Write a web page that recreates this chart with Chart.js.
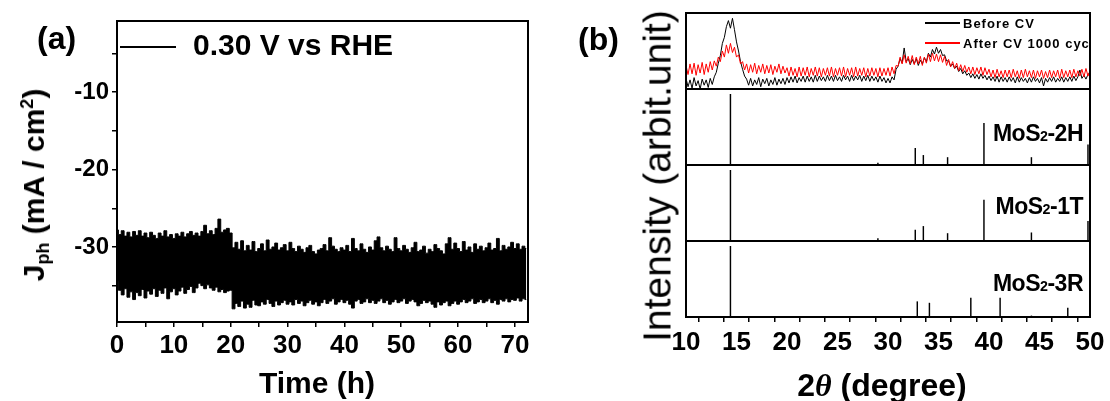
<!DOCTYPE html>
<html>
<head>
<meta charset="utf-8">
<script src="https://cdn.jsdelivr.net/npm/chart.js@4.4.0/dist/chart.umd.min.js"></script>
<style>
body{margin:0;background:#fff;width:1110px;height:401px;position:relative;overflow:hidden;font-family:"Liberation Sans",Arial,sans-serif;}
canvas{position:absolute;top:0}
#chartA{left:0}
#chartB{left:560px}
.t{position:absolute;white-space:nowrap;line-height:1;color:#000;font-weight:bold}
.t sub,.t sup{font-size:0.6em;line-height:0}
.t sub{vertical-align:-0.3em}
.t sup{vertical-align:0.6em}
.ln{position:absolute;height:2px}
</style>
</head>
<body>
<canvas id="chartA" width="545" height="401"></canvas>
<canvas id="chartB" width="550" height="401"></canvas>

<div class="t" style="left:37px;top:38px;font-size:32px;transform:translateY(-50%)">(a)</div>
<div class="ln" style="left:120px;top:46px;width:56px;background:#000"></div>
<div class="t" style="left:193px;top:45px;font-size:30px;transform:translateY(-50%)">0.30 V vs RHE</div>
<div class="t" style="left:317px;top:383px;font-size:30px;transform:translate(-50%,-50%)">Time (h)</div>
<div class="t" style="left:34px;top:185px;font-size:30px;transform:translate(-50%,-50%) rotate(-90deg)">J<sub>ph</sub> (mA / cm<sup>2</sup>)</div>

<div class="t" style="left:578px;top:39px;font-size:32px;transform:translateY(-50%)">(b)</div>
<div class="t" style="left:657px;top:176px;font-size:39px;font-weight:normal;transform:translate(-50%,-50%) rotate(-90deg)">Intensity (arbit.unit)</div>
<div class="t" style="left:882px;top:385px;font-size:32px;transform:translate(-50%,-50%)">2<span style="font-family:'Liberation Serif',serif;font-style:italic">θ</span> (degree)</div>
<div class="ln" style="left:925px;top:22px;width:35px;height:1.5px;background:#000"></div>
<div class="t" style="left:963px;top:23px;font-size:13px;letter-spacing:1px;transform:translateY(-50%)">Before CV</div>
<div class="ln" style="left:925px;top:42px;width:35px;height:1.5px;background:#ff0000"></div>
<div class="t" style="left:963px;top:43px;font-size:13px;letter-spacing:1px;transform:translateY(-50%)">After CV 1000 cyc</div>
<div class="t" style="right:27px;top:133px;font-size:23px;letter-spacing:-0.5px;transform:translateY(-50%)">MoS<sub style="font-size:0.62em;vertical-align:-0.05em">2</sub>-2H</div>
<div class="t" style="right:27px;top:206px;font-size:23px;letter-spacing:-0.5px;transform:translateY(-50%)">MoS<sub style="font-size:0.62em;vertical-align:-0.05em">2</sub>-1T</div>
<div class="t" style="right:27px;top:283px;font-size:23px;letter-spacing:-0.5px;transform:translateY(-50%)">MoS<sub style="font-size:0.62em;vertical-align:-0.05em">2</sub>-3R</div>

<script>
// ---- (a) photocurrent band, every 0.5 h from 0 to 72 h
const upperJ = [
  -27.8, -28.4, -27.9, -28.6, -28.1, -28.7, -28.0, -28.5, -27.9, -28.6,
  -28.2, -28.8, -28.1, -28.5, -28.9, -28.2, -28.6, -27.9, -28.7, -28.4,
  -28.9, -28.3, -28.6, -28.1, -28.7, -28.3, -28.0, -28.5, -28.2, -28.6,
  -28.0, -27.2, -28.3, -27.9, -28.4, -27.6, -26.4, -28.1, -27.8, -27.6,
  -28.2,
  -30.1, -29.4, -30.3, -29.2, -30.5, -29.8, -30.4, -29.3, -30.6,
  -30.2, -29.6, -30.5, -29.1, -30.3, -30.0, -29.5, -30.4, -30.1, -29.7,
  -30.5, -29.4, -30.2, -30.6, -29.9, -30.3, -30.7, -30.1, -29.8, -30.6,
  -30.9, -30.4, -30.2, -29.7, -30.5, -28.8, -29.9, -30.3, -30.6, -30.1,
  -30.4, -29.8, -30.6, -28.9, -30.2, -30.5, -29.6, -30.3, -30.7, -30.0,
  -30.4, -29.2, -28.7, -30.1, -30.5, -29.9, -30.3, -30.6, -28.8, -30.2,
  -30.5, -29.8, -30.3, -30.7, -30.1, -29.4, -30.6, -30.4, -29.9, -30.8,
  -30.3, -30.6, -29.7, -30.2, -30.5, -30.9, -29.6, -28.8, -30.3, -29.5,
  -30.2, -30.6, -29.3, -30.4, -30.0, -30.7, -29.6, -30.3, -29.9, -30.5,
  -30.1, -29.5, -30.4, -30.2, -28.9, -30.5, -29.8, -30.3, -30.0, -29.4,
  -30.2, -29.6, -30.3, -29.9, -30.2
];
const lowerJ = [
  -34.4, -35.6, -36.2, -35.4, -36.5, -35.8, -36.8, -35.9, -36.3, -35.5,
  -36.6, -35.7, -36.1, -35.4, -36.4, -35.6, -36.0, -35.3, -36.7, -35.8,
  -35.4, -36.2, -35.7, -35.2, -36.0, -35.5, -35.1, -35.9, -35.3, -34.7,
  -35.0, -35.4, -34.9, -35.3, -35.6, -35.2, -35.8, -35.5, -35.9, -35.7,
  -35.6,
  -38.0, -37.3, -37.7, -37.0, -37.9, -37.4, -37.8, -36.9, -37.5,
  -37.6, -37.1, -37.4, -36.8, -37.3, -37.7, -37.0, -37.5, -37.2, -36.9,
  -37.4, -37.1, -37.5, -36.8, -37.3, -37.0, -37.6, -37.2, -36.9, -37.4,
  -37.1, -37.6, -37.2, -36.8, -37.3, -37.0, -36.7, -37.4, -37.1, -36.8,
  -37.2, -36.9, -37.4, -37.9, -37.0, -36.8, -37.3, -37.1, -36.7, -37.2,
  -36.9, -37.3, -37.0, -36.7, -37.2, -36.9, -37.4, -37.1, -36.8, -37.2,
  -37.0, -36.7, -37.3, -37.0, -36.8, -37.1, -37.6, -37.3, -36.9, -37.2,
  -37.0, -37.4, -37.8, -37.1, -37.5, -37.2, -37.0, -37.6, -37.3, -37.0,
  -37.4, -37.1, -36.8, -37.2, -37.0, -36.7, -37.3, -37.1, -36.8, -37.2,
  -37.0, -36.7, -37.2, -36.9, -37.4, -36.8, -37.0, -36.7, -37.1, -36.8,
  -36.9, -36.6, -37.0, -36.7, -36.8
];
const hours = upperJ.map((_, i) => i * 0.5);
const timeTicks = [0, 5, 10, 15, 20, 25, 30, 35, 40, 45, 50, 55, 60, 65, 70];
const currentTicks = [-35, -30, -25, -20, -15, -10, -5];

// ---- (b) XRD, every 0.2 degree from 10 to 50
const beforeCV = [
  14, 3, 12, 1, 15, 4, 11, 0, 13, 5,
  12, 2, 14, 6, 16, 22, 34, 44, 60, 68,
  82, 90, 80, 93, 78, 62, 50, 36, 26, 17,
  13, 5, 14, 4, 12, 6, 15, 3, 13, 7,
  14, 4, 12, 6, 15, 5, 13, 7, 14, 6,
  15, 8, 16, 9, 17, 8, 15, 10, 17, 9,
  17, 10, 16, 9, 18, 10, 17, 11, 16, 10,
  18, 11, 17, 10, 18, 11, 16, 10, 18, 12,
  17, 10, 18, 11, 17, 12, 18, 10, 17, 11,
  18, 10, 17, 11, 16, 9, 17, 10, 15, 8,
  14, 8, 16, 12, 26, 30, 40, 34, 54, 36,
  40, 32, 39, 33, 40, 31, 38, 33, 41, 36,
  47, 42, 52, 46, 55, 47, 52, 44, 45, 37,
  37, 30, 33, 27, 30, 23, 27, 20, 24, 18,
  21, 15, 20, 14, 19, 13, 20, 14, 18, 12,
  17, 11, 16, 10, 17, 9, 16, 10, 15, 9,
  16, 10, 15, 8, 16, 9, 15, 10, 14, 8,
  15, 9, 16, 10, 14, 8, 15, 4, 14, 9,
  15, 10, 16, 9, 14, 10, 16, 9, 15, 10,
  16, 10, 17, 11, 16, 25, 14, 18, 13, 19,
  22
];
const afterCV = [
  31, 19, 33, 20, 34, 18, 32, 21, 35, 19,
  33, 22, 36, 25, 37, 30, 42, 36, 50, 42,
  58, 47, 60, 48, 55, 42, 45, 33, 36, 25,
  33, 21, 32, 22, 34, 20, 31, 22, 33, 20,
  31, 21, 32, 19, 30, 22, 33, 20, 30, 21,
  28, 17, 29, 18, 27, 16, 29, 17, 28, 18,
  29, 16, 27, 18, 29, 17, 28, 16, 27, 18,
  28, 17, 29, 16, 27, 18, 28, 17, 29, 16,
  27, 18, 28, 16, 29, 17, 27, 18, 28, 16,
  27, 17, 28, 18, 27, 16, 28, 17, 27, 18,
  28, 17, 29, 20, 31, 30, 42, 33, 45, 34,
  43, 33, 44, 32, 42, 33, 43, 31, 42, 34,
  46, 36, 47, 37, 46, 36, 45, 35, 43, 31,
  39, 29, 36, 27, 34, 24, 32, 23, 31, 22,
  29, 20, 29, 19, 28, 20, 29, 18, 28, 19,
  26, 16, 25, 15, 26, 16, 24, 15, 25, 16,
  25, 15, 26, 16, 24, 14, 25, 15, 26, 16,
  24, 15, 25, 14, 24, 16, 25, 14, 23, 15,
  25, 15, 24, 16, 25, 14, 26, 15, 24, 16,
  25, 15, 26, 16, 24, 17, 26, 16, 27, 17,
  24
];
const twoTheta = beforeCV.map((_, i) => 10 + i * 0.2);
const thetaTicks = [10, 12.5, 15, 17.5, 20, 22.5, 25, 27.5, 30, 32.5, 35, 37.5, 40, 42.5, 45, 47.5, 50];

// reference patterns (2theta, relative intensity)
const pos2H = [14.4, 29.0, 32.7, 33.5, 35.9, 39.5, 44.2, 49.8];
const int2H = [100, 3, 24, 14, 11, 59, 11, 29];
const pos1T = [14.4, 29.0, 32.7, 33.5, 35.9, 39.5, 44.2, 49.8];
const int1T = [100, 4, 16, 21, 11, 58, 12, 28];
const pos3R = [14.4, 32.9, 34.1, 38.2, 41.1, 44.2, 47.8];
const int3R = [100, 22, 20, 27, 27, 2, 13];

const xy = (xs, ys) => ys.map((y, i) => ({x: xs[i], y: y}));
const bold = size => ({family: 'Liberation Sans', weight: 'bold', size: size});
const fixTicks = list => s => { s.ticks = list.map(v => ({value: v})); };

const frame = {
  id: 'frame',
  afterDatasetsDraw(chart, args, opts) {
    const {ctx, chartArea: a} = chart;
    ctx.save();
    ctx.strokeStyle = '#000';
    ctx.lineWidth = 2;
    (opts.ids || []).forEach(id => {
      const s = chart.scales[id];
      ctx.strokeRect(a.left, s.top, a.right - a.left, s.bottom - s.top);
    });
    ctx.restore();
  }
};

new Chart(document.getElementById('chartA'), {
  type: 'line',
  data: {
    datasets: [
      {data: xy(hours, lowerJ), borderColor: '#000', borderWidth: 1, pointRadius: 0, stepped: 'middle', fill: false},
      {data: xy(hours, upperJ), borderColor: '#000', borderWidth: 1, pointRadius: 0, stepped: 'middle', fill: '-1', backgroundColor: '#000'}
    ]
  },
  options: {
    responsive: false,
    animation: false,
    layout: {padding: {top: 21, right: 17, left: 0, bottom: 0}},
    plugins: {legend: {display: false}, tooltip: {enabled: false}, frame: {ids: ['y']}},
    scales: {
      x: {
        type: 'linear', min: 0, max: 72.3,
        afterBuildTicks: fixTicks(timeTicks),
        afterFit: s => { s.height = 79; },
        border: {display: false},
        grid: {drawOnChartArea: false, tickLength: 5, color: '#000', lineWidth: 1.5},
        ticks: {autoSkip: false, maxRotation: 0, padding: 3, color: '#000', font: bold(26),
                callback: v => (v % 10 === 0 ? v : '')}
      },
      y: {
        type: 'linear', min: -39.7, max: -0.8,
        afterBuildTicks: fixTicks(currentTicks),
        afterFit: s => { s.width = 117; },
        border: {display: false},
        grid: {drawOnChartArea: false, tickLength: 5, color: '#000', lineWidth: 1.5},
        ticks: {autoSkip: false, padding: 3, color: '#000', font: bold(24),
                callback: v => (v % 10 === 0 ? v : '')}
      }
    }
  },
  plugins: [frame]
});

const hidden = {
  type: 'linear', position: 'left', stack: 'xrd', stackWeight: 1, min: 0,
  afterFit: s => { s.width = 0; },
  border: {display: false}, grid: {display: false}, ticks: {display: false}
};
const sticks = (xs, ys, id) => ({
  type: 'bar', data: xy(xs, ys), yAxisID: id, backgroundColor: '#000',
  grouped: false, maxBarThickness: 2
});

new Chart(document.getElementById('chartB'), {
  type: 'line',
  data: {
    datasets: [
      {label: 'After CV 1000 cyc', data: xy(twoTheta, afterCV), yAxisID: 'yXrd', order: 0,
       borderColor: '#ff0000', borderWidth: 1, pointRadius: 0},
      {label: 'Before CV', data: xy(twoTheta, beforeCV), yAxisID: 'yXrd', order: 1,
       borderColor: '#000', borderWidth: 1, pointRadius: 0},
      sticks(pos2H, int2H, 'y2H'),
      sticks(pos1T, int1T, 'y1T'),
      sticks(pos3R, int3R, 'y3R')
    ]
  },
  options: {
    responsive: false,
    animation: false,
    layout: {padding: {top: 13, right: 20, left: 126, bottom: 0}},
    plugins: {legend: {display: false}, tooltip: {enabled: false}, frame: {ids: ['yXrd', 'y2H', 'y1T', 'y3R']}},
    scales: {
      x: {
        type: 'linear', min: 10, max: 50, offset: false,
        afterBuildTicks: fixTicks(thetaTicks),
        afterFit: s => { s.height = 84; },
        border: {display: false},
        grid: {drawOnChartArea: false, tickLength: 5, color: '#000', lineWidth: 1.5},
        ticks: {autoSkip: false, maxRotation: 0, padding: 5, color: '#000', font: bold(26),
                callback: v => (v % 5 === 0 ? v : '')}
      },
      // stacked axes are placed bottom-up in the order they are listed
      y3R: Object.assign({}, hidden, {max: 107}),
      y1T: Object.assign({}, hidden, {max: 107}),
      y2H: Object.assign({}, hidden, {max: 107}),
      yXrd: Object.assign({}, hidden, {max: 100})
    }
  },
  plugins: [frame]
});
</script>
</body>
</html>
